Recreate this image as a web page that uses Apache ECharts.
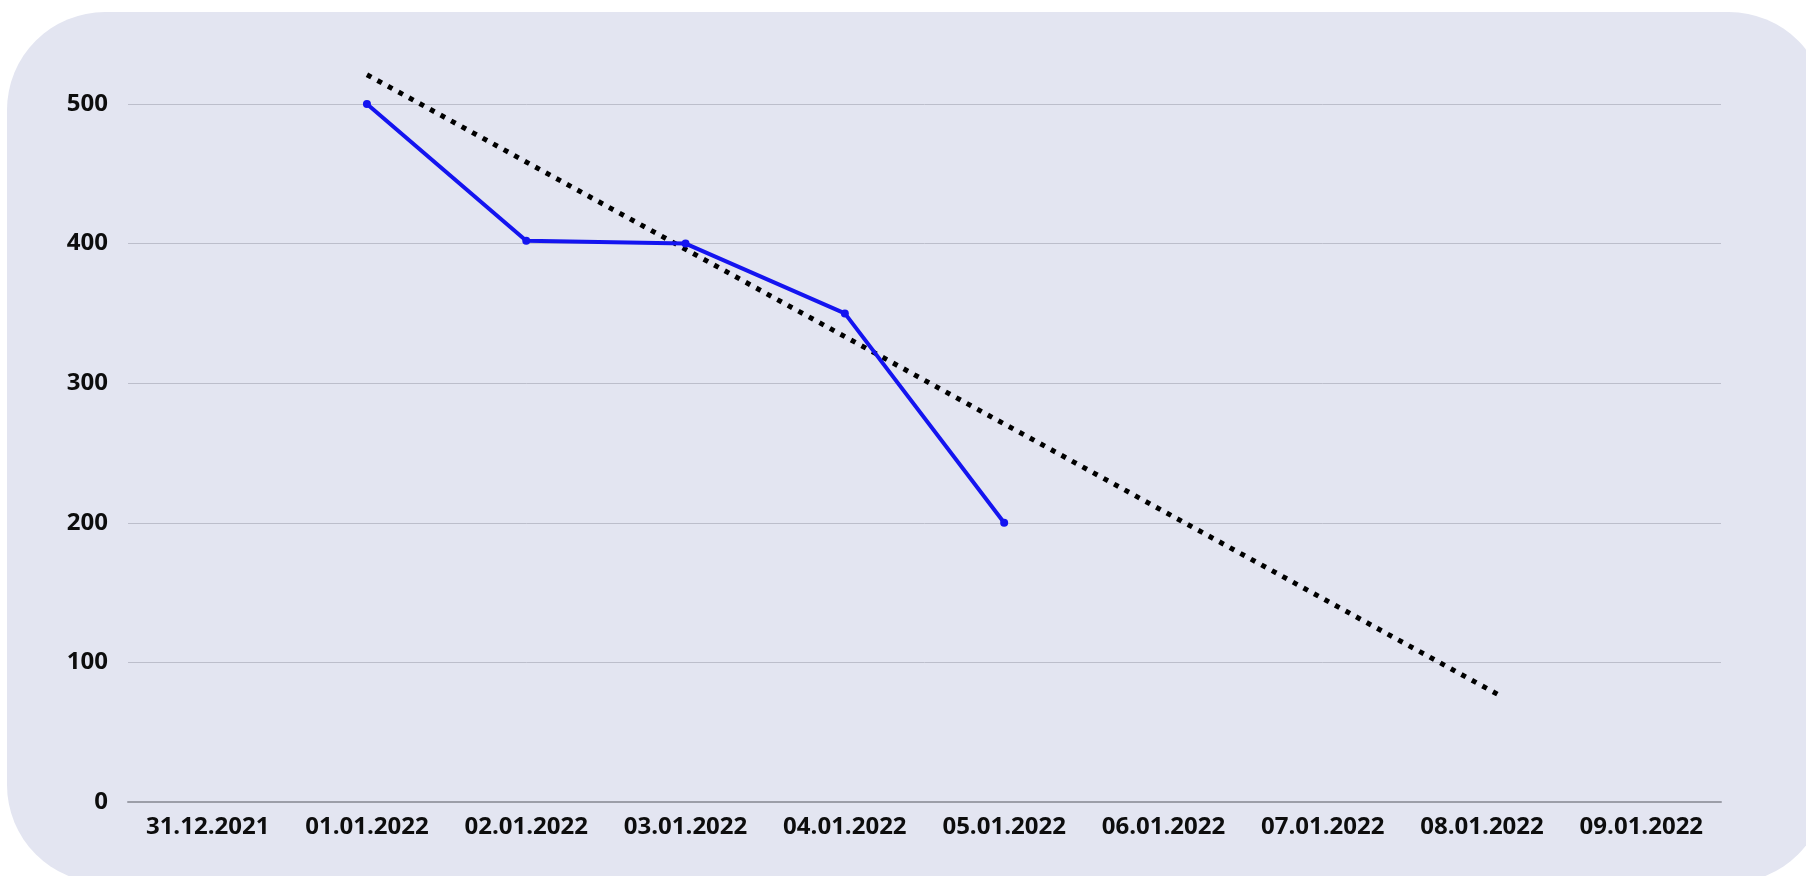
<!DOCTYPE html>
<html>
<head>
<meta charset="utf-8">
<script src="https://cdn.jsdelivr.net/npm/echarts@6/dist/echarts.min.js"></script>
<style>
  html, body { margin: 0; padding: 0; background: #ffffff; }
  #myChart { width: 1806px; height: 876px; }
</style>
</head>
<body>
<div id="myChart"></div>
<script>
// categories on the x axis
var days = ['31.12.2021', '01.01.2022', '02.01.2022', '03.01.2022', '04.01.2022',
            '05.01.2022', '06.01.2022', '07.01.2022', '08.01.2022', '09.01.2022'];
// measured values (blue line)
var actual = [null, 500, 402, 400, 350, 200, null, null, null, null];
// trend line (dotted): [day index, value] of its two ends
var trendStart = [1, 521];
var trendEnd = [8.1, 77];
// y axis ticks
var yMin = 0;
var yMax = 500;
var yStep = 100;

var chartDom = document.getElementById('myChart');
var myChart = echarts.init(chartDom, null, { renderer: 'canvas' });
var labelFont = { fontFamily: 'Open Sans', fontWeight: 'bold', fontSize: 24, color: '#0d0d0d' };

var option = {
  backgroundColor: '#ffffff',
  animation: false,
  graphic: [
    {
      type: 'rect',
      z: -10,
      silent: true,
      shape: { x: 7, y: 12, width: 1820, height: 871, r: 98 },
      style: { fill: '#e3e5f1' }
    }
  ],
  grid: {
    left: 128,
    right: 85,
    top: 104,
    bottom: 74
  },
  xAxis: [
    {
      type: 'category',
      data: days,
      boundaryGap: true,
      axisLine: { show: true, lineStyle: { color: '#9c9ea8', width: 2 } },
      axisTick: { show: false },
      axisLabel: Object.assign({ margin: 13, interval: 0 }, labelFont),
      splitLine: { show: false }
    },
    {
      // hidden helper axis so the trend can run between day positions
      type: 'value',
      min: -0.5,
      max: days.length - 0.5,
      show: false
    }
  ],
  yAxis: {
    type: 'value',
    min: yMin,
    max: yMax,
    interval: yStep,
    axisLine: { show: false },
    axisTick: { show: false },
    axisLabel: Object.assign({ margin: 20 }, labelFont),
    splitLine: { show: true, lineStyle: { color: '#bcbecb', width: 1 } }
  },
  series: [
    {
      name: 'trend',
      type: 'line',
      xAxisIndex: 1,
      data: [trendStart, trendEnd],
      clip: false,
      showSymbol: false,
      symbol: 'none',
      lineStyle: { color: '#000000', width: 5, type: [5, 7], cap: 'butt' },
      z: 3
    },
    {
      name: 'actual',
      type: 'line',
      data: actual,
      clip: false,
      symbol: 'circle',
      symbolSize: 8,
      itemStyle: { color: '#1414f0' },
      lineStyle: { color: '#1414f0', width: 4 },
      z: 4
    }
  ]
};
option && myChart.setOption(option);
</script>
</body>
</html>
